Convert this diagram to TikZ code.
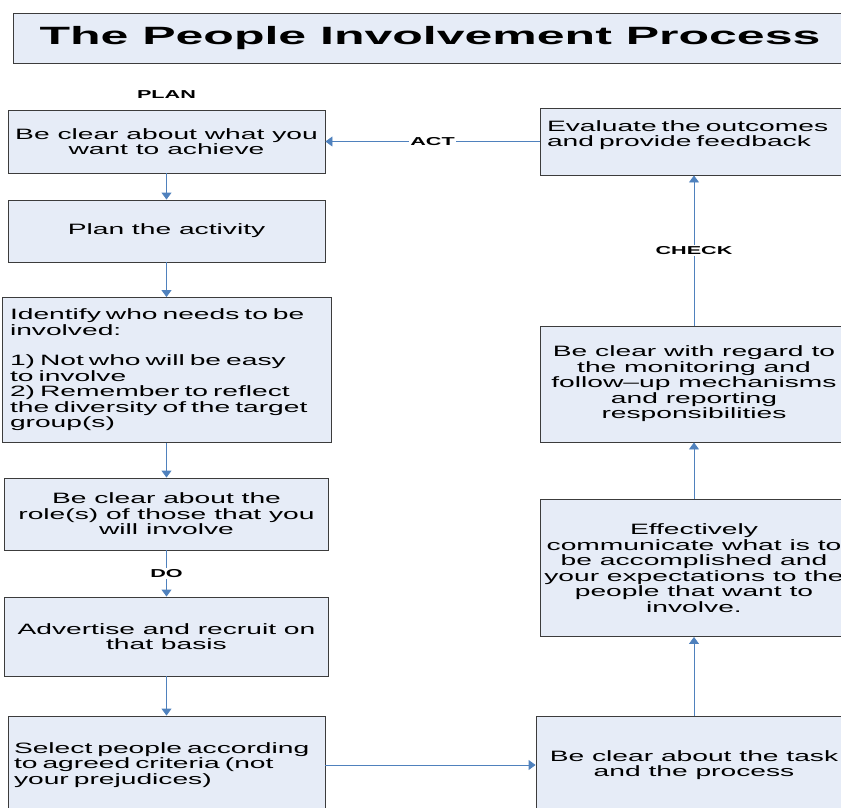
\documentclass[tikz,border=0pt]{standalone}
\usepackage{fontspec}
\usetikzlibrary{arrows.meta}
\newfontfamily\boxfont{Liberation Sans}[FakeStretch=1.88,Ligatures=TeX]
\newfontfamily\headfont{Liberation Sans}[FakeStretch=2.0]
\definecolor{boxfill}{RGB}{230,236,247}
\definecolor{boxline}{RGB}{60,60,60}
\definecolor{flow}{RGB}{79,129,189}
\begin{document}
\begin{tikzpicture}[x=1pt,y=-1pt,
  stage/.style={draw=boxline,line width=0.9pt,fill=boxfill,
    font={\boxfont\fontsize{15}{15.5}\selectfont},inner sep=0pt},
  stagec/.style={stage,align=center},
  stagel/.style={stage,align=left,inner xsep=#1},
  tag/.style={font={\boxfont\bfseries\fontsize{11.5}{12}\selectfont},
    fill=white,inner sep=1.5pt},
  flowline/.style={draw=flow,line width=0.9pt,
    -{Triangle[length=7pt,width=10pt]}}]
\useasboundingbox (0,0) rectangle (841,807);
\clip (0,0) rectangle (841,807);

% heading
\node[draw=boxline,line width=0.9pt,fill=boxfill,minimum width=834pt,
  minimum height=50pt,inner sep=0pt,
  font={\headfont\bfseries\fontsize{25}{28}\selectfont}]
  (title) at (430,38) {The People Involvement Process};

\node[tag,fill=none] (plan) at (166.5,95) {PLAN};

% left column, top to bottom
\node[stagec,minimum width=317pt,minimum height=63pt] (b1) at (166.5,141.5)
  {Be clear about what you\\want to achieve};
\node[stagec,minimum width=317pt,minimum height=62pt] (b2) at (166.5,231)
  {Plan the activity};
\node[stagel=8pt,text width=313pt,minimum height=145pt] (b3) at (166.5,370)
  {Identify who needs to be\\involved:\\[15pt]1) Not who will be easy\\to involve\\2) Remember to reflect\\the diversity of the target\\group(s)};
\node[stagec,minimum width=324pt,minimum height=72pt] (b4) at (166.5,514)
  {Be clear about the\\role(s) of those that you\\will involve};
\node[stagec,minimum width=324pt,minimum height=79pt] (b5) at (166.5,636.5)
  {Advertise and recruit on\\that basis};
\node[stagel=6pt,text width=305pt,minimum height=98pt] (b6) at (166.5,765)
  {Select people according\\to agreed criteria (not\\your prejudices)};

% right column, bottom to top
\node[stagec,minimum width=316pt,minimum height=98pt] (b7) at (694,765)
  {Be clear about the task\\and the process};
\node[stagec,minimum width=308pt,minimum height=137pt] (b8) at (694,568)
  {Effectively\\communicate what is to\\be accomplished and\\your expectations to the\\people that want to\\involve.};
\node[stagec,minimum width=308pt,minimum height=116pt] (b9) at (694,384)
  {Be clear with regard to\\the monitoring and\\follow–up mechanisms\\and reporting\\responsibilities};
\node[stagel=7pt,text width=294pt,minimum height=67pt] (b10) at (694,141.5)
  {Evaluate the outcomes\\and provide feedback\\~};

% connectors
\draw[flowline] (b1) -- (b2);
\draw[flowline] (b2) -- (b3);
\draw[flowline] (b3) -- (b4);
\draw[flowline] (b4) -- node[tag] (do) {DO} (b5);
\draw[flowline] (b5) -- (b6);
\draw[flowline] (b6) -- (b7);
\draw[flowline] (b7) -- (b8);
\draw[flowline] (b8) -- (b9);
\draw[flowline] (b9) -- node[tag] (check) {CHECK} (b10);
\draw[flowline] (b10) -- node[tag] (act) {ACT} (b1);
\end{tikzpicture}
\end{document}
